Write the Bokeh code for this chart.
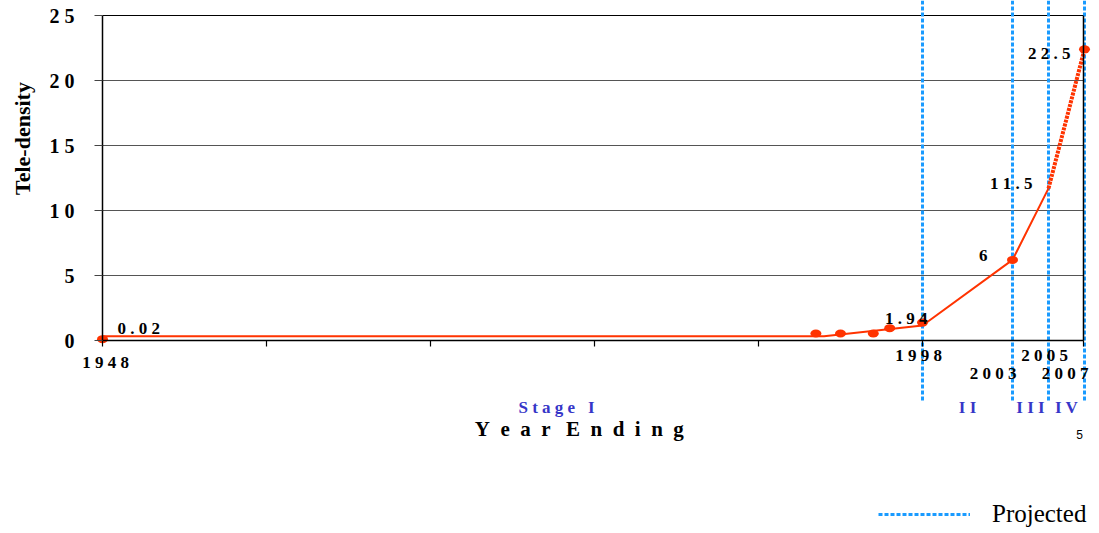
import math
from bokeh.plotting import figure
from bokeh.models import (Range1d, LinearAxis, FixedTicker, ColumnDataSource,
                          Legend, LegendItem)
from bokeh.core.properties import value
from bokeh.embed import file_html
from bokeh.resources import INLINE

# ---------------- data ----------------
HIST_LINE_YEARS = [1948, 1992, 1998]
HIST_LINE_VALUES = [0.33, 0.33, 1.15]
PROJ_LINE_YEARS = [1998, 2003, 2005]
PROJ_LINE_VALUES = [1.15, 6.2, 11.7]
FINAL_LINE_YEARS = [2005, 2007]
FINAL_LINE_VALUES = [11.7, 22.4]

HIST_POINT_YEARS = [1948, 1991.5, 1993, 1995, 1996, 1998]
HIST_POINT_VALUES = [0.1, 0.54, 0.54, 0.54, 0.95, 1.38]
PROJ_POINT_YEARS = [2003, 2007]
PROJ_POINT_VALUES = [6.2, 22.4]

FIRST_LABEL_YEAR = [1948]
FIRST_LABEL_VALUE = [0.02]
FIRST_LABEL_TEXT = ["0 . 0 2"]
LABEL_YEARS = [1998, 2003, 2005, 2007]
LABEL_VALUES = [1.94, 6, 11.5, 22.5]
LABEL_TEXTS = ["1 . 9 4", "6", "1 1 . 5", "2 2 . 5"]

PROJECTED_YEARS = [1998, 2003, 2005, 2007]
YEAR_ROW1 = [1998, 2005]
YEAR_ROW1_TEXT = ["1 9 9 8", "2 0 0 5"]
YEAR_ROW2 = [2003, 2007]
YEAR_ROW2_TEXT = ["2 0 0 3", "2 0 0 7"]
FIRST_YEAR_TEXT = ["1 9 4 8"]

Y_TICKS = [0, 5, 10, 15, 20, 25]
Y_TICK_LABELS = ["0", "5", "1 0", "1 5", "2 0", "2 5"]
X_TICKS = [1948, 1958, 1968, 1978, 1988, 1998]

STAGE_BOUNDS = [1998, 2003, 2005, 2007]
STAGE_NAMES = ["I I", "I I I", "I V"]
NB = "\u00a0"
STAGE_ONE = "S t a g e " + NB + NB + "I"
X_TITLE = (NB + " ").join("Year") + " " + NB + " " + (NB + " ").join("Ending")

# ---------------- layout ----------------
W, H = 1099, 533
RED = "#ff3300"
BLUE = "#1a9bff"
STAGE_BLUE = "#3636c8"
FONT_NAME = "Liberation Serif"
FONT = value(FONT_NAME)

def px2x(px):
    return 1948 + (px - 102) / 16.4

def px2y(py):
    return (340 - py) / 13.0

PROJ_PX = 18.0
X_RIGHT = px2x(1083)

p = figure(width=W, height=H, output_backend="svg", toolbar_location=None,
           x_range=Range1d(px2x(0), px2x(W)), y_range=Range1d(px2y(H), px2y(0)),
           x_axis_type=None, y_axis_type=None, min_border=0)
p.outline_line_color = None
p.background_fill_color = "white"
p.extra_x_ranges = {"proj": Range1d(1998 - 922 / PROJ_PX, 1998 + (W - 922) / PROJ_PX)}

# grid lines (and top border)
grid_src = ColumnDataSource(dict(
    y=Y_TICKS[1:],
    c=["#555555"] * (len(Y_TICKS) - 2) + ["#000000"]))
p.segment(x0=1948, x1=X_RIGHT, y0="y", y1="y", source=grid_src,
          line_color="c", line_width=1.2)

# axes
yaxis = LinearAxis(fixed_location=1948, bounds=(0, 25),
                   ticker=FixedTicker(ticks=Y_TICKS),
                   major_label_overrides={t: l for t, l in zip(Y_TICKS, Y_TICK_LABELS)},
                   major_tick_out=8, major_tick_in=0,
                   minor_tick_out=0, minor_tick_in=0,
                   major_label_standoff=20,
                   axis_line_color="black", axis_line_width=1.5,
                   major_tick_line_color="#444444",
                   major_label_text_font=FONT_NAME,
                   major_label_text_font_style="bold",
                   major_label_text_font_size="20px",
                   major_label_text_color="black")
p.add_layout(yaxis, "left")

xaxis = LinearAxis(fixed_location=0, bounds=(1948, X_RIGHT),
                   ticker=FixedTicker(ticks=[], minor_ticks=X_TICKS + [X_RIGHT]),
                   major_tick_out=0, major_tick_in=0,
                   minor_tick_out=6, minor_tick_in=0,
                   axis_line_color="black", axis_line_width=1.5,
                   minor_tick_line_color="black", minor_tick_line_width=1.2)
p.add_layout(xaxis, "below")

rborder = LinearAxis(fixed_location=X_RIGHT, bounds=(0, 25),
                     ticker=FixedTicker(ticks=[]),
                     major_tick_out=0, major_tick_in=0,
                     minor_tick_out=0, minor_tick_in=0,
                     axis_line_color="black", axis_line_width=1.5)
p.add_layout(rborder, "right")

# projected dashed lines
dash_r = p.segment(x0=PROJECTED_YEARS, x1=PROJECTED_YEARS,
                   y0=px2y(0), y1=px2y(400), x_range_name="proj",
                   line_color=BLUE, line_width=3, line_dash="4 2")

# red series
p.line(HIST_LINE_YEARS, HIST_LINE_VALUES, line_color=RED, line_width=2)
p.line(PROJ_LINE_YEARS, PROJ_LINE_VALUES, line_color=RED, line_width=2,
       x_range_name="proj")
p.line(FINAL_LINE_YEARS, FINAL_LINE_VALUES, line_color=RED, line_width=4,
       line_dash="3 1", x_range_name="proj")

p.ellipse(x=HIST_POINT_YEARS, y=HIST_POINT_VALUES, width=11, height=8,
          width_units="screen", height_units="screen",
          fill_color=RED, line_color=None)
p.ellipse(x=PROJ_POINT_YEARS, y=PROJ_POINT_VALUES, width=11, height=8,
          width_units="screen", height_units="screen",
          fill_color=RED, line_color=None, x_range_name="proj")

# value labels
lab_style = dict(text_font=FONT, text_font_style="bold",
                 text_font_size="17px", text_color="black",
                 text_baseline="middle")
p.text(x=FIRST_LABEL_YEAR, y=FIRST_LABEL_VALUE, text=FIRST_LABEL_TEXT,
       x_offset=15, y_offset=-12, text_align="left", **lab_style)
LABEL_DX = [5, -25, -16, -14]
LABEL_DY = [3, -7, -8, 5]
lab_src = ColumnDataSource(dict(x=LABEL_YEARS, y=LABEL_VALUES, t=LABEL_TEXTS,
                                dx=LABEL_DX, dy=LABEL_DY))
p.text(x="x", y="y", text="t", x_offset="dx", y_offset="dy", source=lab_src,
       text_align="right", x_range_name="proj", **lab_style)

# year labels
yr_style = dict(text_font=FONT, text_font_style="bold",
                text_font_size="17px", text_color="black",
                text_baseline="middle")
p.text(x=[1948], y=[0], text=FIRST_YEAR_TEXT, x_offset=3, y_offset=22,
       text_align="center", **yr_style)
p.text(x=YEAR_ROW1, y=[0] * len(YEAR_ROW1), text=YEAR_ROW1_TEXT,
       x_offset=-4, y_offset=15, text_align="center", x_range_name="proj",
       **yr_style)
p.text(x=YEAR_ROW2, y=[0] * len(YEAR_ROW2), text=YEAR_ROW2_TEXT,
       x_offset=4, y_offset=33, text_align="right", x_range_name="proj",
       **yr_style)

# stage labels
stage_style = dict(text_font=FONT, text_font_style="bold",
                   text_font_size="17px", text_color=STAGE_BLUE,
                   text_baseline="middle", text_align="center")
mids = [(a + b) / 2 for a, b in zip(STAGE_BOUNDS[:-1], STAGE_BOUNDS[1:])]
p.text(x=mids, y=[px2y(407)] * len(mids), text=STAGE_NAMES,
       x_range_name="proj", **stage_style)
p.text(x=[px2x(556)], y=[px2y(407)], text=[STAGE_ONE], **stage_style)

# axis titles
p.text(x=[px2x(579)], y=[px2y(428)], text=[X_TITLE],
       text_font=FONT, text_font_style="bold", text_font_size="21px",
       text_color="black", text_align="center", text_baseline="middle")
p.text(x=[px2x(22)], y=[px2y(138)], text=["Tele-density"], angle=math.pi / 2,
       text_font=FONT, text_font_style="bold", text_font_size="22px",
       text_color="black", text_align="center", text_baseline="middle")
p.text(x=[px2x(1079)], y=[px2y(434)], text=["5"],
       text_font=value("Liberation Sans"), text_font_size="12px",
       text_color="black", text_align="center", text_baseline="middle")

# legend
legend = Legend(items=[LegendItem(label="Projected", renderers=[dash_r])],
                location=(878, 5), glyph_width=92, glyph_height=20,
                label_standoff=22, padding=0, margin=0, spacing=0,
                border_line_color=None, background_fill_alpha=0,
                label_text_font=FONT_NAME, label_text_font_size="25px",
                label_text_color="black")
p.add_layout(legend, "center")

open("out.html", "w").write(file_html(p, INLINE))
